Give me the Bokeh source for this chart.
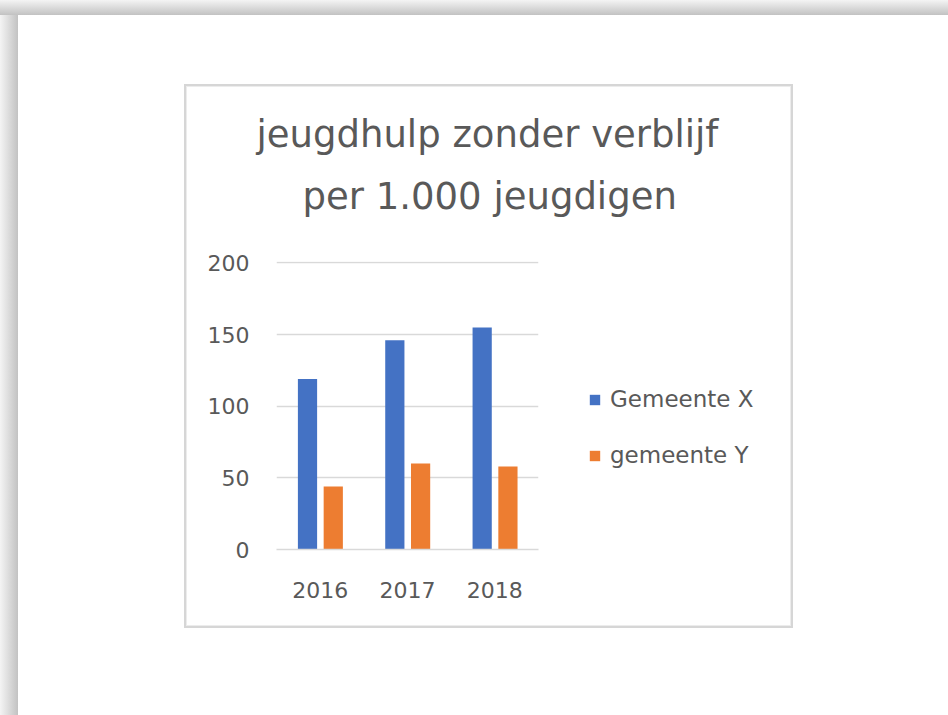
from bokeh.plotting import figure
from bokeh.models import (FactorRange, Range1d, Legend, LegendItem, Title,
                          ColumnDataSource, FixedTicker)
from bokeh.transform import dodge
from bokeh.embed import file_html
from bokeh.resources import INLINE

# ---- data ----
years = ["2016", "2017", "2018"]
gemeente_x = [119, 146, 155]
gemeente_y = [44, 60, 58]
series_names = ["Gemeente X", "gemeente Y"]
title_lines = ["jeugdhulp zonder verblijf", "per 1.000 jeugdigen"]
y_ticks = [0, 50, 100, 150, 200]

BLUE = "#4472C4"
ORANGE = "#ED7D31"
GRID = "#D9D9D9"
TXT = "#595959"
FONT = "DejaVu Sans"

# page decoration (page shadow + chart frame) drawn as CSS background of the plot element
bg_layers = [
    ("linear-gradient(#d6d6d6,#d6d6d6)", "184px 84px", "609px 2px"),
    ("linear-gradient(#d6d6d6,#d6d6d6)", "184px 626px", "609px 2px"),
    ("linear-gradient(#d6d6d6,#d6d6d6)", "184px 84px", "2px 544px"),
    ("linear-gradient(#d6d6d6,#d6d6d6)", "791px 84px", "2px 544px"),
    ("linear-gradient(#ececec,#ececec)", "186px 86px", "605px 1px"),
    ("linear-gradient(#ececec,#ececec)", "186px 625px", "605px 1px"),
    ("linear-gradient(#ececec,#ececec)", "186px 86px", "1px 540px"),
    ("linear-gradient(#ececec,#ececec)", "790px 86px", "1px 540px"),
    ("linear-gradient(to bottom,#f4f4f4,#c2c2c2)", "0px 0px", "100% 15px"),
    ("linear-gradient(to right,#f4f4f4,#c2c2c2)", "0px 0px", "18px 100%"),
]
styles = {
    "background-color": "white",
    "background-image": ", ".join(l[0] for l in bg_layers),
    "background-position": ", ".join(l[1] for l in bg_layers),
    "background-size": ", ".join(l[2] for l in bg_layers),
    "background-repeat": "no-repeat",
}

p = figure(x_range=FactorRange(factors=years), y_range=Range1d(0, 201),
           frame_width=262, frame_height=288,
           output_backend="svg", toolbar_location=None,
           min_border_left=276, min_border_right=394,
           min_border_top=261, min_border_bottom=166, styles=styles)
p.background_fill_color = None
p.border_fill_color = None
p.outline_line_color = None

src = ColumnDataSource(dict(years=years, gx=gemeente_x, gy=gemeente_y))
r1 = p.vbar(x=dodge("years", -0.145, range=p.x_range), top="gx", width=0.22,
            source=src, fill_color=BLUE, line_color=None)
r2 = p.vbar(x=dodge("years", 0.15, range=p.x_range), top="gy", width=0.22,
            source=src, fill_color=ORANGE, line_color=None)

# axes
p.yaxis.ticker = FixedTicker(ticks=y_ticks)
p.yaxis.axis_line_color = None
p.yaxis.major_tick_line_color = None
p.yaxis.minor_tick_line_color = None
p.yaxis.major_label_standoff = 21
p.xaxis.axis_line_color = GRID
p.xaxis.axis_line_width = 1.5
p.xaxis.major_tick_line_color = None
p.xaxis.minor_tick_line_color = None
p.xaxis.major_label_standoff = 26
for ax in (p.xaxis, p.yaxis):
    ax.major_label_text_font = FONT
    ax.major_label_text_font_size = "22px"
    ax.major_label_text_color = TXT
p.xgrid.grid_line_color = None
p.ygrid.grid_line_color = GRID
p.ygrid.grid_line_width = 1.5

# title (two lines, inner one added first)
p.add_layout(Title(text=title_lines[1], align="left", offset=26, standoff=87,
                   text_font=FONT, text_font_size="37px", text_color=TXT,
                   text_font_style="normal"), "above")
p.add_layout(Title(text=title_lines[0], align="left", offset=-20, standoff=-52,
                   text_font=FONT, text_font_size="37px", text_color=TXT,
                   text_font_style="normal"), "above")

legend = Legend(items=[LegendItem(label=series_names[0], renderers=[r1]),
                       LegendItem(label=series_names[1], renderers=[r2])],
                location=(50, 81), orientation="vertical",
                padding=0, margin=0, spacing=30, glyph_height=13, glyph_width=13,
                label_height=26, label_standoff=9,
                label_text_font=FONT, label_text_font_size="23px", label_text_color=TXT,
                border_line_color=None, background_fill_alpha=0)
p.add_layout(legend, "right")

open("out.html", "w").write(file_html(p, INLINE))
